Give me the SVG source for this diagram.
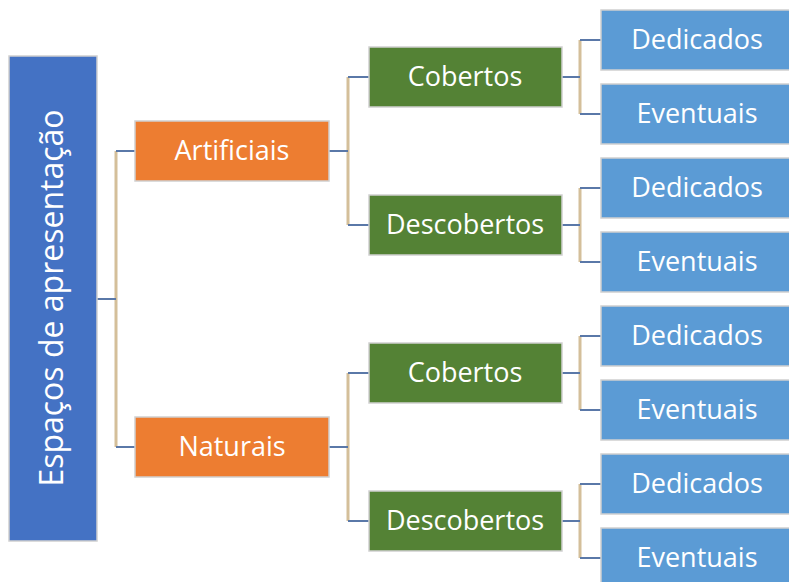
<svg xmlns="http://www.w3.org/2000/svg" width="789" height="582" viewBox="0 0 789 582">
<style>
.box{stroke:#d0d0d0;stroke-width:1.5}
.root{fill:#4472C4}
.org{fill:#ED7D31}
.grn{fill:#548235}
.blu{fill:#5B9BD5}
.t{font-family:"Open Sans","Liberation Sans",sans-serif;font-size:27px;fill:#ffffff;text-anchor:middle}
.h{stroke:#5A78A8;stroke-width:2;fill:none}
.v{stroke:#D4BF9A;stroke-width:3;fill:none}
</style>
<rect width="789" height="582" fill="#ffffff"/>
<g id="connectors">
<path class="v" d="M116,151V447 M348,77V225 M348,373V521 M580,40V114 M580,188V262 M580,336V410 M580,484V558"/>
<path class="h" d="M97,299H116 M116,151H135 M116,447H135 M329,151H348 M348,77H369 M348,225H369 M329,447H348 M348,373H369 M348,521H369 M562,77H580 M580,40H601 M580,114H601 M562,225H580 M580,188H601 M580,262H601 M562,373H580 M580,336H601 M580,410H601 M562,521H580 M580,484H601 M580,558H601"/>
</g>
<g id="root"><rect class="box root" x="9" y="56" width="88" height="485"/><text class="t" style="font-size:32px" transform="translate(63,298) rotate(-90)">Espaços de apresentação</text></g>
<g id="artificiais"><rect class="box org" x="135" y="121" width="194" height="60"/><text class="t" x="232" y="160">Artificiais</text></g>
<g id="naturais"><rect class="box org" x="135" y="417" width="194" height="60"/><text class="t" x="232" y="456">Naturais</text></g>
<g id="cobertos1"><rect class="box grn" x="369" y="47" width="193" height="60"/><text class="t" x="465" y="86">Cobertos</text></g>
<g id="descobertos1"><rect class="box grn" x="369" y="195" width="193" height="60"/><text class="t" x="465" y="234">Descobertos</text></g>
<g id="cobertos2"><rect class="box grn" x="369" y="343" width="193" height="60"/><text class="t" x="465" y="382">Cobertos</text></g>
<g id="descobertos2"><rect class="box grn" x="369" y="491" width="193" height="60"/><text class="t" x="465" y="530">Descobertos</text></g>
<g id="dedicados1"><rect class="box blu" x="601" y="10" width="193" height="60"/><text class="t" x="697" y="49">Dedicados</text></g>
<g id="eventuais1"><rect class="box blu" x="601" y="84" width="193" height="60"/><text class="t" x="697" y="123">Eventuais</text></g>
<g id="dedicados2"><rect class="box blu" x="601" y="158" width="193" height="60"/><text class="t" x="697" y="197">Dedicados</text></g>
<g id="eventuais2"><rect class="box blu" x="601" y="232" width="193" height="60"/><text class="t" x="697" y="271">Eventuais</text></g>
<g id="dedicados3"><rect class="box blu" x="601" y="306" width="193" height="60"/><text class="t" x="697" y="345">Dedicados</text></g>
<g id="eventuais3"><rect class="box blu" x="601" y="380" width="193" height="60"/><text class="t" x="697" y="419">Eventuais</text></g>
<g id="dedicados4"><rect class="box blu" x="601" y="454" width="193" height="60"/><text class="t" x="697" y="493">Dedicados</text></g>
<g id="eventuais4"><rect class="box blu" x="601" y="528" width="193" height="60"/><text class="t" x="697" y="567">Eventuais</text></g>
</svg>
